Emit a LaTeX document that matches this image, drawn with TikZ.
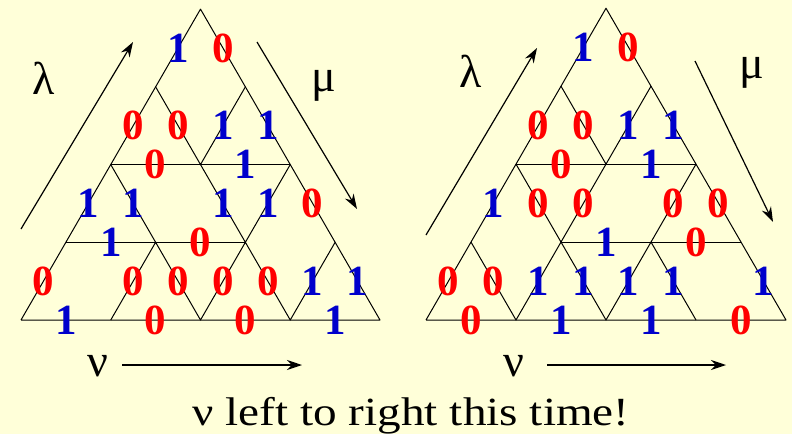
\documentclass[tikz,border=0pt]{standalone}
\usepackage{fontspec}
\setmainfont{Liberation Serif}
\usetikzlibrary{arrows.meta}
\definecolor{paper}{RGB}{255,255,217}
\definecolor{zred}{RGB}{255,0,0}
\definecolor{oblue}{RGB}{0,0,204}

\begin{document}
\begin{tikzpicture}[x=1pt, y=-1pt, line width=1pt, line join=round, every node/.style={inner sep=0pt}]
\tikzstyle{zero}=[text=zred, font=\fontsize{43}{43}\selectfont\bfseries]
\tikzstyle{one}=[text=oblue, font=\fontsize{43}{43}\selectfont\bfseries]
\tikzstyle{greek}=[font=\fontsize{46}{46}\selectfont]
\tikzstyle{dir}=[-{Stealth[length=15pt,width=10pt]}, line width=1.2pt]
\fill[paper] (0,0) rectangle (792,434);
\useasboundingbox (0,0) rectangle (792,434);

% lattice points of both puzzles
\foreach \j in {0,...,4}{
  \pgfmathtruncatemacro{\n}{4-\j}
  \foreach \i in {0,...,\n}{
    \coordinate (L\i\j) at (21+\i*89.75+\j*44.875, 320-\j*77.72);
    \coordinate (R\i\j) at (426+\i*90+\j*45, 320-\j*77.94);
  }
}

% left puzzle
\draw (L00) -- node[zero]{0} (L01) -- node[one]{1} (L02) -- node[zero]{0} (L03) -- node[one]{1} (L04)
  -- node[zero]{0} (L13) -- node[one]{1} (L22) -- node[zero]{0} (L31) -- node[one]{1} (L40)
  -- node[one]{1} (L30) -- node[zero]{0} (L20) -- node[zero]{0} (L10) -- node[one]{1} (L00);
\draw (L03) -- node[zero]{0} (L12) -- node[one]{1} (L13);
\draw (L02) -- node[zero]{0} (L12) -- node[one]{1} (L22);
\draw (L02) -- node[one]{1} (L11);
\draw (L01) -- node[one]{1} (L11) -- node[zero]{0} (L21);
\draw (L12) -- node[one]{1} (L21) -- node[one]{1} (L22);
\draw (L10) -- node[zero]{0} (L11) -- node[zero]{0} (L20) -- node[zero]{0} (L21) -- node[zero]{0} (L30) -- node[one]{1} (L31);

% right puzzle
\draw (R00) -- node[zero]{0} (R01) -- node[one]{1} (R02) -- node[zero]{0} (R03) -- node[one]{1} (R04)
  -- node[zero]{0} (R13) -- node[one]{1} (R22) -- node[zero]{0} (R31) -- node[one]{1} (R40)
  -- node[zero]{0} (R30) -- node[one]{1} (R20) -- node[one]{1} (R10) -- node[zero]{0} (R00);
\draw (R03) -- node[zero]{0} (R12) -- node[one]{1} (R13);
\draw (R02) -- node[zero]{0} (R12) -- node[one]{1} (R22);
\draw (R02) -- node[zero]{0} (R11) -- node[zero]{0} (R12);
\draw (R11) -- node[one]{1} (R21) -- node[zero]{0} (R31);
\draw (R21) -- node[zero]{0} (R22);
\draw (R01) -- node[zero]{0} (R10) -- node[one]{1} (R11) -- node[one]{1} (R20) -- node[one]{1} (R21) -- node[one]{1} (R30);

% lambda, mu, nu
\node[greek] (lamL) at (44,78) {λ};
\node[greek] (muL) at (324,86) {μ};
\node[greek] (nuL) at (98,366) {ν};
\node[greek] (lamR) at (471,71) {λ};
\node[greek] (muR) at (752,73) {μ};
\node[greek] (nuR) at (514,366) {ν};
\coordinate (lamL1) at (21,229);  \coordinate (lamL2) at (133,42);
\coordinate (muL1) at (257,42);   \coordinate (muL2) at (357,209);
\coordinate (nuL1) at (122,365);  \coordinate (nuL2) at (302,365);
\coordinate (lamR1) at (426,235); \coordinate (lamR2) at (537,48);
\coordinate (muR1) at (695,61);   \coordinate (muR2) at (773,222);
\coordinate (nuR1) at (547,365);  \coordinate (nuR2) at (726,365);
\draw[dir] (lamL1) -- (lamL2);
\draw[dir] (muL1) -- (muL2);
\draw[dir] (nuL1) -- (nuL2);
\draw[dir] (lamR1) -- (lamR2);
\draw[dir] (muR1) -- (muR2);
\draw[dir] (nuR1) -- (nuR2);

\node[font=\fontsize{40}{40}\selectfont, anchor=base] (note) at (411,425) {\scalebox{1.18}[1]{ν left to right this time!}};
\end{tikzpicture}
\end{document}
